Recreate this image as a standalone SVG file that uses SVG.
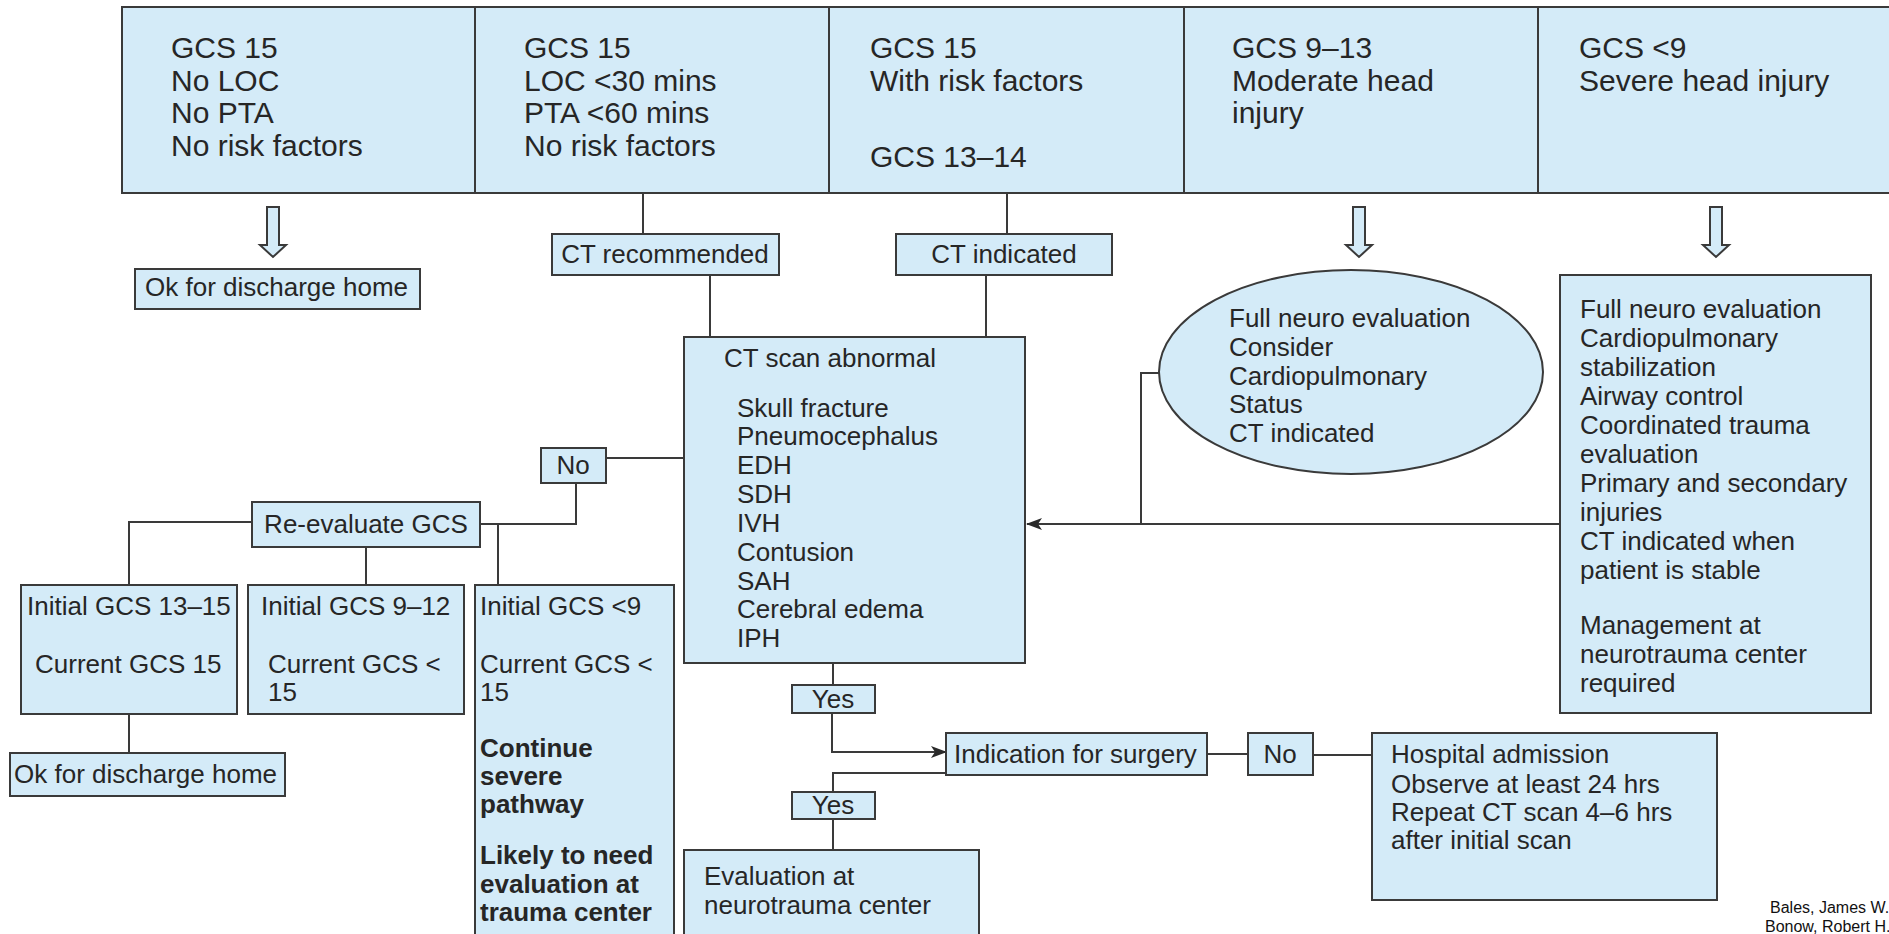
<svg xmlns="http://www.w3.org/2000/svg" width="1889" height="934" viewBox="0 0 1889 934">
<defs>
<style>
.box{fill:#d4ebf8;stroke:#3a3a3a;stroke-width:2}
.ln{stroke:#3a3a3a;stroke-width:2;fill:none}
text{font-family:"Liberation Sans",Arial,sans-serif;fill:#262626;font-size:26px}
.big{font-size:30px}
.b{font-weight:bold}
.cit{font-size:16px;fill:#111}
.mid{text-anchor:middle}
</style>
<marker id="ah" viewBox="0 0 16 12" refX="15" refY="6" markerWidth="16" markerHeight="12" markerUnits="userSpaceOnUse" orient="auto">
<path d="M0,0 L16,6 L0,12 L4,6 Z" fill="#2a2a2a"/>
</marker>
</defs>
<rect width="1889" height="934" fill="#ffffff"/>

<g id="connectors">
<line class="ln" x1="643" y1="193" x2="643" y2="234"/>
<line class="ln" x1="710" y1="275" x2="710" y2="337"/>
<line class="ln" x1="1007" y1="193" x2="1007" y2="234"/>
<line class="ln" x1="986" y1="275" x2="986" y2="337"/>
<line class="ln" x1="1560" y1="524" x2="1027" y2="524" marker-end="url(#ah)"/>
<polyline class="ln" points="1160,373 1141,373 1141,524"/>
<line class="ln" x1="606" y1="458" x2="684" y2="458"/>
<polyline class="ln" points="576,483 576,524 480,524"/>
<polyline class="ln" points="252,522 129,522 129,585"/>
<line class="ln" x1="366" y1="547" x2="366" y2="585"/>
<line class="ln" x1="498" y1="524" x2="498" y2="585"/>
<line class="ln" x1="129" y1="714" x2="129" y2="753"/>
<line class="ln" x1="833" y1="663" x2="833" y2="685"/>
<polyline class="ln" points="832,713 832,752 946,752" marker-end="url(#ah)"/>
<polyline class="ln" points="946,773 833,773 833,792"/>
<line class="ln" x1="833" y1="819" x2="833" y2="850"/>
<line class="ln" x1="1207" y1="754" x2="1248" y2="754"/>
<line class="ln" x1="1313" y1="755" x2="1372" y2="755"/>
<path class="box" d="M267,207 H279 V245 H286 L273,257 L260,245 H267 Z"/>
<path class="box" d="M1353,207 H1365 V245 H1372 L1359,257 L1346,245 H1353 Z"/>
<path class="box" d="M1710,207 H1722 V245 H1729 L1716,257 L1703,245 H1710 Z"/>
</g>

<g id="top1">
<rect class="box" x="122" y="7" width="353" height="186"/>
<text class="big" x="171" y="58">GCS 15</text>
<text class="big" x="171" y="91">No LOC</text>
<text class="big" x="171" y="123">No PTA</text>
<text class="big" x="171" y="156">No risk factors</text>
</g>
<g id="top2">
<rect class="box" x="475" y="7" width="354" height="186"/>
<text class="big" x="524" y="58">GCS 15</text>
<text class="big" x="524" y="91">LOC &lt;30 mins</text>
<text class="big" x="524" y="123">PTA &lt;60 mins</text>
<text class="big" x="524" y="156">No risk factors</text>
</g>
<g id="top3">
<rect class="box" x="829" y="7" width="355" height="186"/>
<text class="big" x="870" y="58">GCS 15</text>
<text class="big" x="870" y="91">With risk factors</text>
<text class="big" x="870" y="167">GCS 13–14</text>
</g>
<g id="top4">
<rect class="box" x="1184" y="7" width="354" height="186"/>
<text class="big" x="1232" y="58">GCS 9–13</text>
<text class="big" x="1232" y="91">Moderate head</text>
<text class="big" x="1232" y="123">injury</text>
</g>
<g id="top5">
<rect class="box" x="1538" y="7" width="352" height="186"/>
<text class="big" x="1579" y="58">GCS &lt;9</text>
<text class="big" x="1579" y="91">Severe head injury</text>
</g>

<g id="ok1">
<rect class="box" x="135" y="269" width="285" height="40"/>
<text x="145" y="296">Ok for discharge home</text>
</g>
<g id="ctrec">
<rect class="box" x="552" y="234" width="227" height="41"/>
<text class="mid" x="665" y="263">CT recommended</text>
</g>
<g id="ctind">
<rect class="box" x="896" y="234" width="216" height="41"/>
<text class="mid" x="1004" y="263">CT indicated</text>
</g>

<g id="ctscan">
<rect class="box" x="684" y="337" width="341" height="326"/>
<text x="724" y="367">CT scan abnormal</text>
<text x="737" y="417">Skull fracture</text>
<text x="737" y="445">Pneumocephalus</text>
<text x="737" y="474">EDH</text>
<text x="737" y="503">SDH</text>
<text x="737" y="532">IVH</text>
<text x="737" y="561">Contusion</text>
<text x="737" y="590">SAH</text>
<text x="737" y="618">Cerebral edema</text>
<text x="737" y="647">IPH</text>
</g>

<g id="moderate">
<ellipse class="box" cx="1351" cy="372" rx="192" ry="102"/>
<text x="1229" y="327">Full neuro evaluation</text>
<text x="1229" y="356">Consider</text>
<text x="1229" y="385">Cardiopulmonary</text>
<text x="1229" y="413">Status</text>
<text x="1229" y="442">CT indicated</text>
</g>

<g id="severe">
<rect class="box" x="1560" y="275" width="311" height="438"/>
<text x="1580" y="318">Full neuro evaluation</text>
<text x="1580" y="347">Cardiopulmonary</text>
<text x="1580" y="376">stabilization</text>
<text x="1580" y="405">Airway control</text>
<text x="1580" y="434">Coordinated trauma</text>
<text x="1580" y="463">evaluation</text>
<text x="1580" y="492">Primary and secondary</text>
<text x="1580" y="521">injuries</text>
<text x="1580" y="550">CT indicated when</text>
<text x="1580" y="579">patient is stable</text>
<text x="1580" y="634">Management at</text>
<text x="1580" y="663">neurotrauma center</text>
<text x="1580" y="692">required</text>
</g>

<g id="no1">
<rect class="box" x="541" y="448" width="65" height="35"/>
<text class="mid" x="573" y="474">No</text>
</g>
<g id="reeval">
<rect class="box" x="252" y="502" width="228" height="45"/>
<text class="mid" x="366" y="533">Re-evaluate GCS</text>
</g>

<g id="initA">
<rect class="box" x="21" y="585" width="216" height="129"/>
<text x="27" y="615">Initial GCS 13–15</text>
<text x="35" y="673">Current GCS 15</text>
</g>
<g id="initB">
<rect class="box" x="248" y="585" width="216" height="129"/>
<text x="261" y="615">Initial GCS 9–12</text>
<text x="268" y="673">Current GCS &lt;</text>
<text x="268" y="701">15</text>
</g>
<g id="initC">
<rect class="box" x="475" y="585" width="199" height="360"/>
<text x="480" y="615">Initial GCS &lt;9</text>
<text x="480" y="673">Current GCS &lt;</text>
<text x="480" y="701">15</text>
<text class="b" x="480" y="757">Continue</text>
<text class="b" x="480" y="785">severe</text>
<text class="b" x="480" y="813">pathway</text>
<text class="b" x="480" y="864">Likely to need</text>
<text class="b" x="480" y="893">evaluation at</text>
<text class="b" x="480" y="921">trauma center</text>
</g>

<g id="ok2">
<rect class="box" x="10" y="753" width="275" height="43"/>
<text x="14" y="783">Ok for discharge home</text>
</g>

<g id="yes1">
<rect class="box" x="792" y="685" width="83" height="28"/>
<text class="mid" x="833" y="708">Yes</text>
</g>
<g id="surgery">
<rect class="box" x="946" y="733" width="261" height="42"/>
<text x="954" y="763">Indication for surgery</text>
</g>
<g id="no2">
<rect class="box" x="1248" y="733" width="65" height="42"/>
<text class="mid" x="1280" y="763">No</text>
</g>
<g id="yes2">
<rect class="box" x="792" y="792" width="83" height="27"/>
<text class="mid" x="833" y="814">Yes</text>
</g>
<g id="evalcenter">
<rect class="box" x="684" y="850" width="295" height="95"/>
<text x="704" y="885">Evaluation at</text>
<text x="704" y="914">neurotrauma center</text>
</g>
<g id="hospital">
<rect class="box" x="1372" y="733" width="345" height="167"/>
<text x="1391" y="763">Hospital admission</text>
<text x="1391" y="793">Observe at least 24 hrs</text>
<text x="1391" y="821">Repeat CT scan 4–6 hrs</text>
<text x="1391" y="849">after initial scan</text>
</g>

<g id="citation">
<text class="cit" x="1770" y="913">Bales, James W.</text>
<text class="cit" x="1765" y="932">Bonow, Robert H.</text>
</g>
</svg>
